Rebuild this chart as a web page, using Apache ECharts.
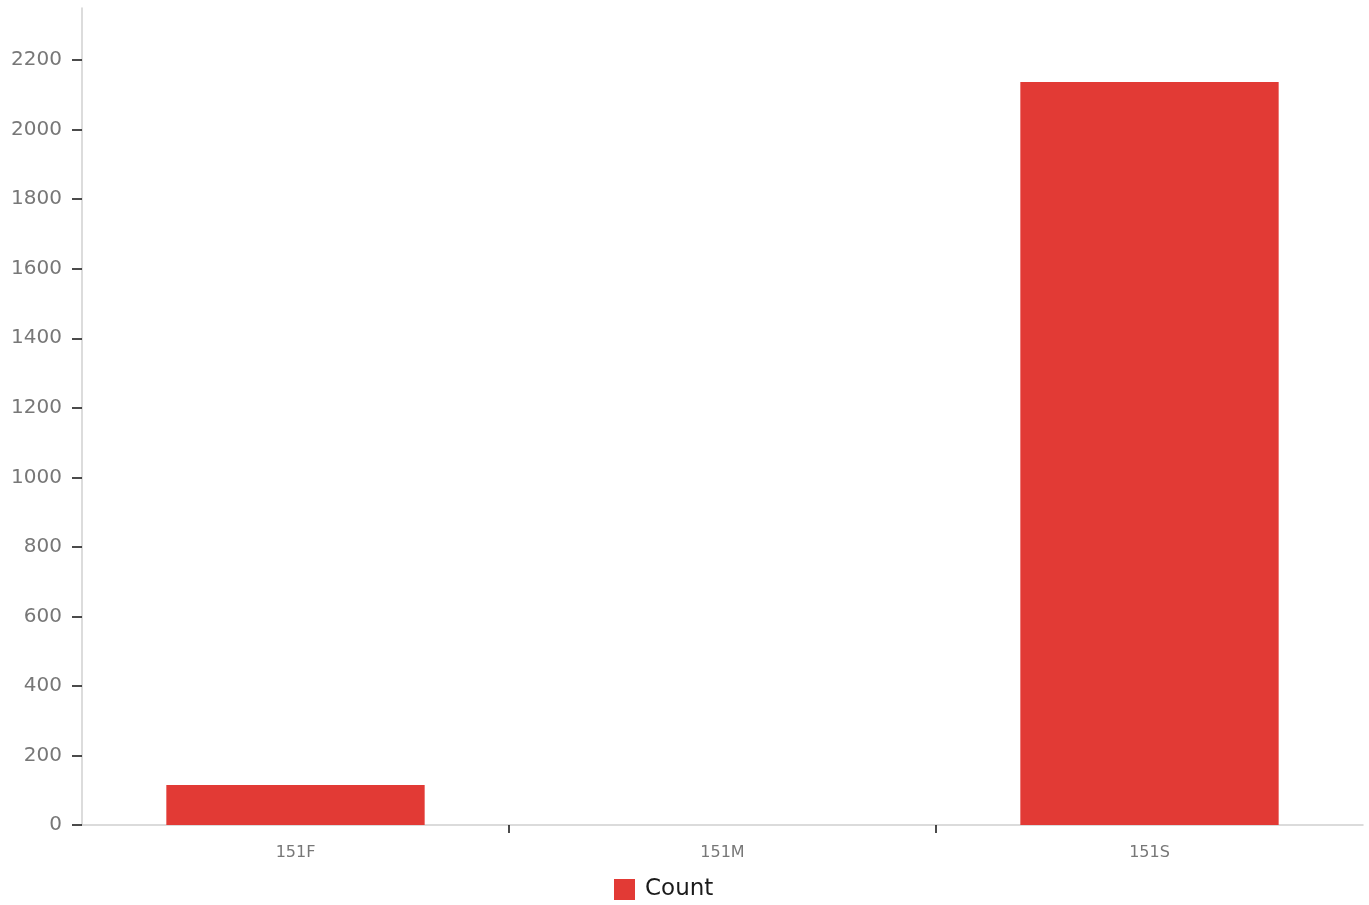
<!DOCTYPE html>
<html>
<head>
<meta charset="utf-8">
<script src="https://cdn.jsdelivr.net/npm/echarts@6/dist/echarts.min.js"></script>
<style>
html,body{margin:0;padding:0;background:#fff;}
#chart{width:1369px;height:905px;}
</style>
</head>
<body>
<div id="chart"></div>
<script>
const categories = ['151F', '151M', '151S'];
const countValues = [115, 0, 2137];
const yTickValues = [0, 200, 400, 600, 800, 1000, 1200, 1400, 1600, 1800, 2000, 2200];
const seriesName = 'Count';

const FONT = 'DejaVu Sans';
const chart = echarts.init(document.getElementById('chart'), null, {renderer: 'canvas'});
chart.setOption({
  animation: false,
  backgroundColor: '#ffffff',
  textStyle: {fontFamily: FONT},
  grid: {left: 82, right: 6, top: 8, bottom: 80, containLabel: false},
  legend: {
    data: [seriesName],
    left: 614, top: 878, padding: 0,
    icon: 'rect', itemWidth: 21, itemHeight: 21, itemGap: 10,
    textStyle: {fontFamily: FONT, fontSize: 23, color: '#1a1a1a', padding: [0, 0, 0, 5]}
  },
  xAxis: [{
    type: 'category',
    data: categories,
    boundaryGap: true,
    axisLine: {show: true, lineStyle: {color: '#d0d0d0', width: 1.5}},
    axisTick: {show: false},
    axisLabel: {color: '#777', fontSize: 16, margin: 20, fontFamily: FONT},
    splitLine: {show: false}
  }, {
    type: 'value',
    position: 'bottom',
    min: 0, max: 3, interval: 1,
    axisLine: {show: false},
    axisTick: {show: true, customValues: [1, 2], length: 8, lineStyle: {color: '#111', width: 1.5}},
    axisLabel: {show: false},
    splitLine: {show: false}
  }],
  yAxis: {
    type: 'value',
    min: 0, max: 2350, interval: 200,
    axisLine: {show: true, lineStyle: {color: '#d0d0d0', width: 1.5}},
    axisTick: {show: true, customValues: yTickValues, length: 10, lineStyle: {color: '#111', width: 1.5}},
    axisLabel: {customValues: yTickValues, color: '#777', fontSize: 20, margin: 20, fontFamily: FONT,
      formatter: function (v) { return String(v); }},
    splitLine: {show: false}
  },
  series: [{
    name: seriesName,
    type: 'bar',
    xAxisIndex: 0,
    data: countValues,
    barCategoryGap: '39.5%',
    itemStyle: {color: '#e23a35'}
  }]
});
</script>
</body>
</html>
